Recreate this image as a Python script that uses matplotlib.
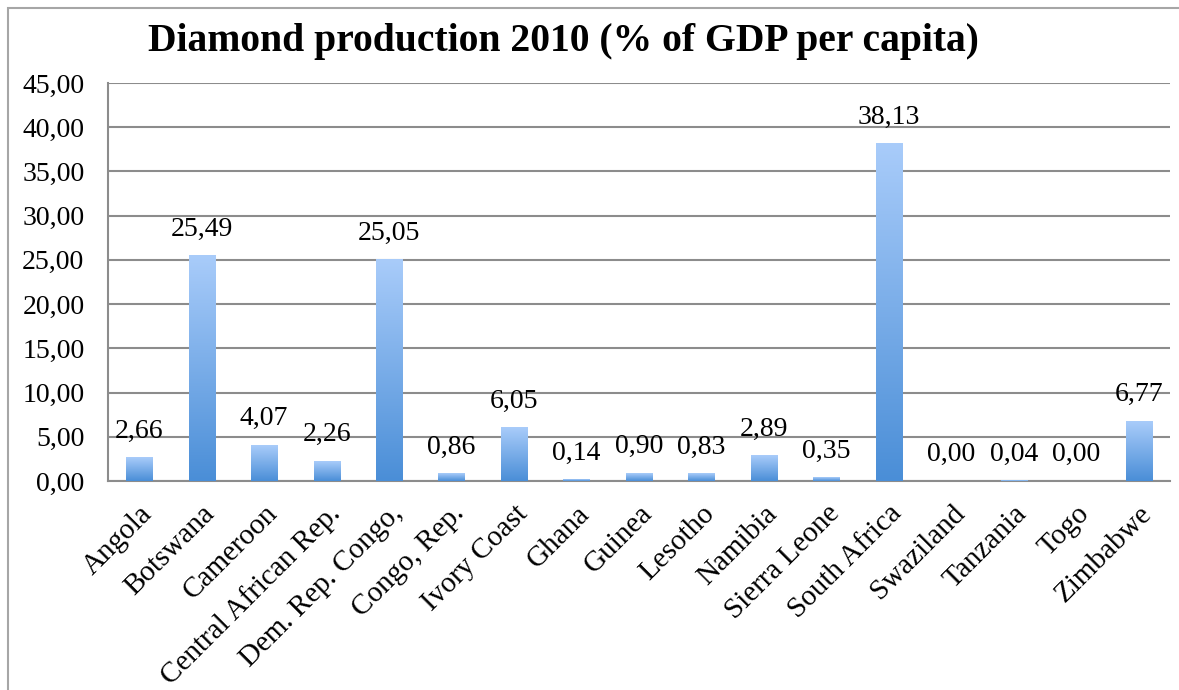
import matplotlib
matplotlib.use("Agg")
import matplotlib.pyplot as plt
import numpy as np
from matplotlib.colors import LinearSegmentedColormap
from matplotlib.patches import Rectangle

countries = [
    "Angola", "Botswana", "Cameroon", "Central African Rep.", "Dem. Rep. Congo,",
    "Congo, Rep.", "Ivory Coast", "Ghana", "Guinea", "Lesotho", "Namibia",
    "Sierra Leone", "South Africa", "Swaziland", "Tanzania", "Togo", "Zimbabwe",
]
values = [2.66, 25.49, 4.07, 2.26, 25.05, 0.86, 6.05, 0.14, 0.90, 0.83, 2.89,
          0.35, 38.13, 0.00, 0.04, 0.00, 6.77]
yticks = [0, 5, 10, 15, 20, 25, 30, 35, 40, 45]

plt.rcParams["font.family"] = ["Liberation Serif", "DejaVu Serif"]

fig = plt.figure(figsize=(11.79, 6.9), dpi=100)
ax = fig.add_axes([108 / 1179, 1 - 481 / 690, 1062 / 1179, 398 / 690])

# chart border (right and bottom edges fall outside the image)
fig.patches.append(Rectangle((8 / 1179, -0.05), 1.2, 1 - 8 / 690 + 0.05,
                             transform=fig.transFigure, fill=False,
                             edgecolor="#a6a6a6", linewidth=1.5))

cmap = LinearSegmentedColormap.from_list("bar", ["#4a8ed7", "#a9ccfa"])
grad = np.linspace(0, 1, 256).reshape(-1, 1)
width = 0.42
x = np.arange(len(countries))
bars = ax.bar(x, values, width=width, color="none", zorder=3)
for b, v in zip(bars, values):
    if v <= 0:
        continue
    x0 = b.get_x()
    ax.imshow(grad, cmap=cmap, origin="lower", aspect="auto",
              extent=(x0, x0 + width, 0, v), zorder=3)
for xi, v in zip(x, values):
    ax.annotate(f"{v:.2f}".replace(".", ","), (xi, v), xytext=(0, 10),
                textcoords="offset points", ha="center", va="bottom",
                fontsize=20, zorder=4)

ax.set_xlim(-0.5, len(countries) - 0.5)
ax.set_ylim(0, 45)
ax.set_yticks(yticks)
ax.set_yticklabels([f"{t:.2f}".replace(".", ",") for t in yticks], fontsize=20)
ax.yaxis.grid(True, color="#8c8c8c", linewidth=1.5, zorder=0)
ax.set_axisbelow(True)
ax.set_xticks(x)
ax.set_xticklabels(countries, rotation=45, ha="right", rotation_mode="anchor",
                   fontsize=21)
ax.tick_params(axis="y", length=0, pad=17)
ax.tick_params(axis="x", length=0, pad=14)
for s in ["top", "right"]:
    ax.spines[s].set_visible(False)
for s in ["left", "bottom"]:
    ax.spines[s].set_color("#8c8c8c")
    ax.spines[s].set_linewidth(1.5)

fig.text(563 / 1179, 1 - 42 / 690, "Diamond production 2010 (% of GDP per capita)",
         ha="center", va="center", fontsize=28.5, fontweight="bold")

fig.savefig("out.png", dpi=100)
